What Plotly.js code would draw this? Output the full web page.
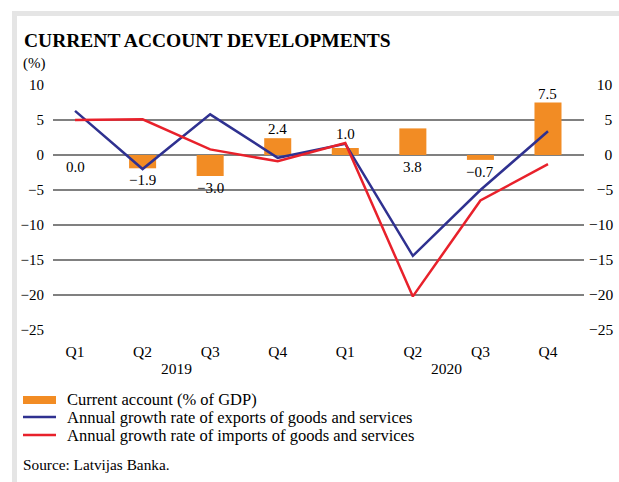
<!DOCTYPE html>
<html>
<head>
<meta charset="utf-8">
<script src="https://cdn.plot.ly/plotly-3.0.1.min.js"></script>
<style>
  html, body { margin: 0; padding: 0; background: #ffffff; }
  #chart { width: 619px; height: 482px; }
</style>
</head>
<body>
<div id="chart"></div>
<script>
// ---- data ----
const years = ["2019", "2019", "2019", "2019", "2020", "2020", "2020", "2020"];
const quarters = ["Q1", "Q2", "Q3", "Q4", "Q1", "Q2", "Q3", "Q4"];
const currentAccount = [0.0, -1.9, -3.0, 2.4, 1.0, 3.8, -0.7, 7.5];
const exportsGrowth = [6.3, -2.0, 5.8, -0.4, 1.6, -14.4, -5.0, 3.4];
const importsGrowth = [5.0, 5.1, 0.8, -0.9, 1.7, -20.2, -6.5, -1.3];
const labelSide = ["below", "below", "below", "above", "above", "below", "below", "above"];
const yTicks = [10, 5, 0, -5, -10, -15, -20, -25];
const seriesNames = [
  "Current account (% of GDP)",
  "Annual growth rate of exports of goods and services",
  "Annual growth rate of imports of goods and services"
];

// ---- style ----
const FONT = "Liberation Serif, Times New Roman, serif";
const ORANGE = "#F28C24";
const NAVY = "#2F3190";
const RED = "#E8212B";
const GRID = "#808080";
const FRAME = "#E5E5E5";

const W = 619, H = 482;
const L = 53, R = 584, T = 85, B = 330;
const px2x = p => (p - L) / (R - L);
const px2y = p => (B - p) / (B - T);

const fmt = v => (v < 0 ? "\u2212" : "") + Math.abs(v).toFixed(1);
const fmtTick = v => (v < 0 ? "\u2212" : "") + Math.abs(v);
const padTick = s => "\u2007".repeat(Math.max(0, 3 - s.length)) + s;

// one slot per quarter; quarter names are tick labels, years are group labels
const x = quarters.map((q, i) => i);

const traces = [
  {
    type: "bar", x: x, y: currentAccount, name: seriesNames[0],
    marker: { color: ORANGE }, width: 0.4, showlegend: false, hoverinfo: "y"
  },
  {
    type: "scatter", mode: "lines", x: x, y: exportsGrowth, name: seriesNames[1],
    line: { color: NAVY, width: 2.5 }, showlegend: false
  },
  {
    type: "scatter", mode: "lines", x: x, y: importsGrowth, name: seriesNames[2],
    line: { color: RED, width: 2.5 }, showlegend: false
  },
  {
    // carrier so the mirrored right-hand axis is drawn
    type: "scatter", mode: "lines", x: x, y: exportsGrowth, yaxis: "y2",
    line: { width: 0, color: "rgba(0,0,0,0)" }, opacity: 0, hoverinfo: "skip", showlegend: false
  }
];

const annotations = [];
currentAccount.forEach((v, i) => {
  const above = labelSide[i] === "above";
  // labels above a bar clear any line point that sits just above it
  let yAbove = Math.max(v, 0);
  [exportsGrowth[i], importsGrowth[i]].forEach(l => {
    if (l > yAbove && l - yAbove < 2) yAbove = l;
  });
  annotations.push({
    x: x[i], y: above ? yAbove : Math.min(v, 0), xref: "x", yref: "y",
    text: fmt(v), showarrow: false,
    yanchor: above ? "bottom" : "top", yshift: above ? -1 : -2,
    font: { family: FONT, size: 15, color: "#000" }
  });
});

// year group labels, centred under their quarters
[...new Set(years)].forEach(yr => {
  const idx = x.filter((_, i) => years[i] === yr);
  const mid = idx.reduce((a, b) => a + b, 0) / idx.length;
  annotations.push({
    x: mid, xref: "x", yref: "paper", y: px2y(368), yanchor: "middle",
    text: yr, showarrow: false, font: { family: FONT, size: 15.5, color: "#000" }
  });
});

// title and unit
annotations.push({
  xref: "paper", yref: "paper", x: px2x(22), y: px2y(40), xanchor: "left", yanchor: "middle",
  text: "<b>CURRENT ACCOUNT DEVELOPMENTS</b>", showarrow: false,
  font: { family: FONT, size: 19.5, color: "#000" }
});
annotations.push({
  xref: "paper", yref: "paper", x: px2x(21), y: px2y(63), xanchor: "left", yanchor: "middle",
  text: "(%)", showarrow: false, font: { family: FONT, size: 15, color: "#000" }
});

// legend (custom)
const legendRows = [400, 417, 435];
const shapes = [
  { type: "rect", xref: "paper", yref: "paper", x0: px2x(12), x1: px2x(620), y0: px2y(11), y1: px2y(16),
    fillcolor: FRAME, line: { width: 0 }, layer: "below" },
  { type: "rect", xref: "paper", yref: "paper", x0: px2x(12), x1: px2x(17), y0: px2y(11), y1: px2y(483),
    fillcolor: FRAME, line: { width: 0 }, layer: "below" },
  { type: "rect", xref: "paper", yref: "paper", x0: px2x(23), x1: px2x(56),
    y0: px2y(legendRows[0] - 4), y1: px2y(legendRows[0] + 4), fillcolor: ORANGE, line: { width: 0 } },
  { type: "line", xref: "paper", yref: "paper", x0: px2x(23), x1: px2x(56),
    y0: px2y(legendRows[1]), y1: px2y(legendRows[1]), line: { color: NAVY, width: 2.5 } },
  { type: "line", xref: "paper", yref: "paper", x0: px2x(23), x1: px2x(56),
    y0: px2y(legendRows[2]), y1: px2y(legendRows[2]), line: { color: RED, width: 2.5 } }
];
seriesNames.forEach((n, i) => {
  annotations.push({
    xref: "paper", yref: "paper", x: px2x(65), y: px2y(legendRows[i]), xanchor: "left", yanchor: "middle",
    text: n, showarrow: false, font: { family: FONT, size: 16.5, color: "#000" }
  });
});
annotations.push({
  xref: "paper", yref: "paper", x: px2x(21), y: px2y(464), xanchor: "left", yanchor: "middle",
  text: "Source: Latvijas Banka.", showarrow: false, font: { family: FONT, size: 15.3, color: "#000" }
});

const layout = {
  width: W, height: H,
  margin: { l: L, r: W - R, t: T, b: H - B, pad: 0 },
  paper_bgcolor: "#ffffff", plot_bgcolor: "#ffffff",
  font: { family: FONT, size: 15, color: "#000" },
  showlegend: false,
  bargap: 0.6,
  xaxis: {
    type: "linear",
    range: [-0.326, 7.533],
    tickvals: x, ticktext: quarters,
    showgrid: false, zeroline: false, showline: false, ticks: "",
    ticklabelstandoff: 10,
    tickfont: { family: FONT, size: 15.5, color: "#000" }
  },
  yaxis: {
    range: [-25, 10], tickvals: yTicks, ticktext: yTicks.map(fmtTick),
    showgrid: true, gridcolor: GRID, gridwidth: 2,
    zeroline: true, zerolinecolor: GRID, zerolinewidth: 2,
    showline: false, ticks: "", ticklabelstandoff: 8,
    tickfont: { family: FONT, size: 15, color: "#000" }
  },
  yaxis2: {
    overlaying: "y", side: "right",
    range: [-25, 10], tickvals: yTicks, ticktext: yTicks.map(v => padTick(fmtTick(v))),
    showgrid: false, zeroline: false, showline: false, ticks: "", ticklabelstandoff: 4,
    tickfont: { family: FONT, size: 15.5, color: "#000" }
  },
  annotations: annotations,
  shapes: shapes
};

Plotly.newPlot("chart", traces, layout, { staticPlot: true, displayModeBar: false });
</script>
</body>
</html>
